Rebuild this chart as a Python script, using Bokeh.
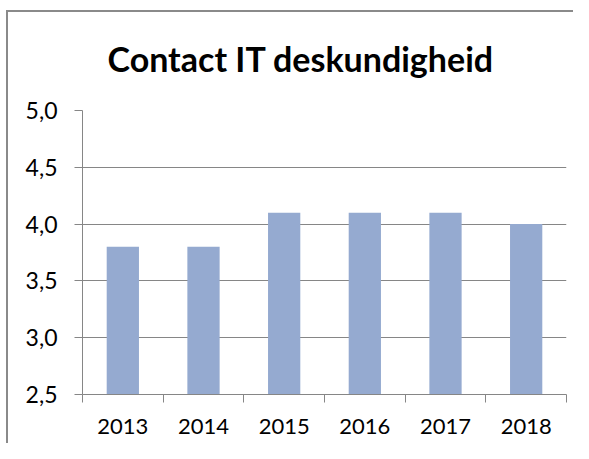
from bokeh.plotting import figure
from bokeh.models import Range1d, FixedTicker, CustomJSTickFormatter, ColumnDataSource
from bokeh.embed import file_html
from bokeh.resources import INLINE

years = ["2013", "2014", "2015", "2016", "2017", "2018"]
scores = [3.8, 3.8, 4.1, 4.1, 4.1, 4.0]
y_ticks = [2.5, 3.0, 3.5, 4.0, 4.5, 5.0]

x_centers = [i + 0.5 for i in range(len(years))]
x_bounds = list(range(len(years) + 1))
src = ColumnDataSource(dict(x=x_centers, top=scores, year=years))

GREY = "#868686"
FONT = "Lato"

p = figure(width=573, height=443, output_backend="svg", toolbar_location=None,
           x_range=Range1d(0, len(years)), y_range=Range1d(y_ticks[0], y_ticks[-1]),
           min_border_left=82, min_border_right=7, min_border_top=110, min_border_bottom=49)
p.outline_line_color = None
p.background_fill_color = None
p.border_fill_color = None
# outer chart border (top and left edges visible; right/bottom run off the picture)
p.styles = {
    "background-color": "white",
    "background-image": "linear-gradient(#8a8a8a, #8a8a8a), linear-gradient(#8a8a8a, #8a8a8a)",
    "background-size": "2px 2000px, 2000px 2px",
    "background-position": "6px 10px, 6px 10px",
    "background-repeat": "no-repeat, no-repeat",
}

p.title.text = "Contact IT deskundigheid"
p.title.align = "left"
p.title.offset = 25
p.title.text_font = FONT
p.title.text_font_size = "34px"
p.title.text_font_style = "bold"
p.title.text_color = "black"
p.title.standoff = 64

p.vbar(x="x", top="top", bottom=y_ticks[0], width=0.4, source=src,
       fill_color="#95AAD0", line_color=None)

p.xgrid.visible = False
p.ygrid.ticker = FixedTicker(ticks=y_ticks)
p.ygrid.grid_line_color = GREY
p.ygrid.grid_line_width = 1

ya = p.yaxis[0]
ya.ticker = FixedTicker(ticks=y_ticks)
ya.formatter = CustomJSTickFormatter(code="return tick.toFixed(1).replace('.', ',');")
ya.axis_line_color = GREY
ya.major_tick_line_color = GREY
ya.major_tick_out = 8
ya.major_tick_in = 0
ya.minor_tick_out = 0
ya.minor_tick_in = 0
ya.major_label_text_font = FONT
ya.major_label_text_font_size = "23px"
ya.major_label_text_color = "black"
ya.major_label_standoff = 17

xa = p.xaxis[0]
xa.ticker = FixedTicker(ticks=x_centers, minor_ticks=x_bounds)
xa.formatter = CustomJSTickFormatter(args=dict(years=years),
                                     code="return years[Math.floor(tick)];")
xa.axis_line_color = GREY
xa.major_tick_out = 0
xa.major_tick_in = 0
xa.minor_tick_out = 8
xa.minor_tick_in = 0
xa.minor_tick_line_color = GREY
xa.major_label_text_font = FONT
xa.major_label_text_font_size = "22px"
xa.major_label_text_color = "black"
xa.major_label_standoff = 16

open("out.html", "w").write(file_html(p, INLINE))
